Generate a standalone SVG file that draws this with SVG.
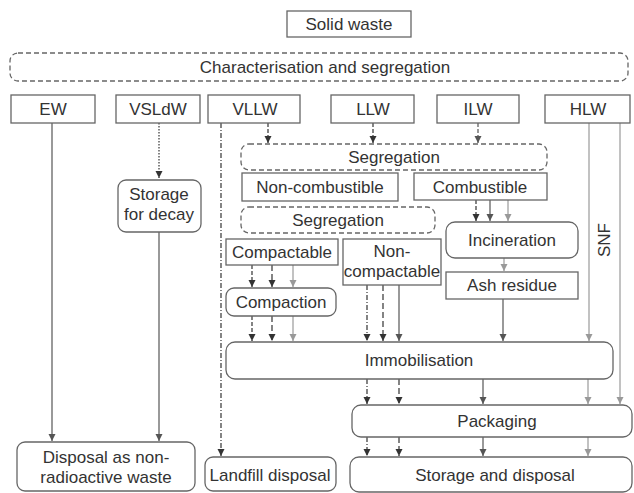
<svg xmlns="http://www.w3.org/2000/svg" width="634" height="493" viewBox="0 0 634 493">
<style>
  text { font-family: "Liberation Sans", Arial, sans-serif; font-size: 17px; fill: #333; text-anchor: middle; }
  .box { fill: #fff; stroke: #666; stroke-width: 1.3; }
  .dbox { fill: #fff; stroke: #666; stroke-width: 1.3; stroke-dasharray: 5,3; }
  .dk { stroke: #333; stroke-width: 1.2; fill: none; marker-end: url(#ahDark); }
  .md { stroke: #555; stroke-width: 1.2; fill: none; marker-end: url(#ahMid); }
  .lt { stroke: #999; stroke-width: 1.2; fill: none; marker-end: url(#ahLight); }
  .ltn { stroke: #999; stroke-width: 1.2; fill: none; }
  .dash1 { stroke-dasharray: 4,2; }
  .dash2 { stroke-dasharray: 6,3; }
  .dashdot { stroke-dasharray: 5,2,1,2; }
  .dot { stroke-dasharray: 1.5,1.5; }
</style>
<defs>
  <marker id="ahDark" markerWidth="8" markerHeight="8" refX="7" refY="4" orient="auto" markerUnits="userSpaceOnUse">
    <path d="M0,0.5 L7,4 L0,7.5 z" fill="#333"/>
  </marker>
  <marker id="ahMid" markerWidth="8" markerHeight="8" refX="7" refY="4" orient="auto" markerUnits="userSpaceOnUse">
    <path d="M0,0.5 L7,4 L0,7.5 z" fill="#555"/>
  </marker>
  <marker id="ahLight" markerWidth="8" markerHeight="8" refX="7" refY="4" orient="auto" markerUnits="userSpaceOnUse">
    <path d="M0,0.5 L7,4 L0,7.5 z" fill="#999"/>
  </marker>
</defs>

<g id="connectors">
  <!-- EW -->
  <line class="md" x1="52" y1="123" x2="52" y2="441"/>
  <!-- VSLdW -->
  <line class="dk dot" x1="159" y1="123" x2="159" y2="178"/>
  <line class="md" x1="159" y1="232" x2="159" y2="441"/>
  <!-- VLLW -->
  <line class="dk dashdot" x1="221" y1="123" x2="221" y2="456"/>
  <line class="dk dash1" x1="268" y1="123" x2="268" y2="143"/>
  <!-- LLW -->
  <line class="dk dash1" x1="373" y1="123" x2="373" y2="143"/>
  <!-- ILW -->
  <line class="md dash1" x1="478" y1="123" x2="478" y2="143"/>
  <!-- Combustible -->
  <line class="dk dash1" x1="476" y1="200" x2="476" y2="221"/>
  <line class="md" x1="490" y1="200" x2="490" y2="221"/>
  <line class="lt" x1="508" y1="200" x2="508" y2="221"/>
  <!-- Incineration to Ash -->
  <line class="lt" x1="504" y1="258" x2="504" y2="271"/>
  <!-- Ash to Immobilisation -->
  <line class="md" x1="503" y1="299" x2="503" y2="341"/>
  <!-- Compactable -->
  <line class="dk dash1" x1="252" y1="265" x2="252" y2="287"/>
  <line class="dk dash2" x1="272" y1="265" x2="272" y2="287"/>
  <line class="lt" x1="293" y1="265" x2="293" y2="287"/>
  <!-- Compaction -->
  <line class="dk dash1" x1="252" y1="316" x2="252" y2="341"/>
  <line class="dk dash2" x1="272" y1="316" x2="272" y2="341"/>
  <line class="lt" x1="293" y1="316" x2="293" y2="341"/>
  <!-- Non-compactable -->
  <line class="dk dashdot" x1="367" y1="285" x2="367" y2="341"/>
  <line class="dk dash2" x1="383" y1="285" x2="383" y2="341"/>
  <line class="md" x1="399" y1="285" x2="399" y2="341"/>
  <!-- HLW -->
  <line class="lt" x1="589" y1="123" x2="589" y2="341"/>
  <line class="lt" x1="620" y1="123" x2="620" y2="404"/>
  <!-- Immobilisation to Packaging -->
  <line class="dk dashdot" x1="367" y1="379" x2="367" y2="404"/>
  <line class="dk dash2" x1="399" y1="379" x2="399" y2="404"/>
  <line class="md" x1="483" y1="379" x2="483" y2="404"/>
  <line class="lt" x1="588" y1="379" x2="588" y2="404"/>
  <!-- Packaging to Storage and disposal -->
  <line class="dk dashdot" x1="367" y1="437" x2="367" y2="456"/>
  <line class="dk dash2" x1="399" y1="437" x2="399" y2="456"/>
  <line class="md" x1="483" y1="437" x2="483" y2="456"/>
  <line class="lt" x1="588" y1="437" x2="588" y2="456"/>
  <text x="604" y="240" transform="rotate(-90 604 240)" dominant-baseline="central">SNF</text>
</g>

<g id="solid-waste">
  <rect class="box" x="287" y="11" width="124" height="26"/>
  <text x="349" y="30">Solid waste</text>
</g>
<g id="characterisation">
  <rect class="dbox" x="10" y="53" width="618" height="28" rx="8"/>
  <text x="325" y="72.5">Characterisation and segregation</text>
</g>
<g id="ew">
  <rect class="box" x="11" y="95" width="84" height="28"/>
  <text x="53" y="115">EW</text>
</g>
<g id="vsldw">
  <rect class="box" x="116" y="95" width="84" height="28"/>
  <text x="158" y="115">VSLdW</text>
</g>
<g id="vllw">
  <rect class="box" x="208" y="95" width="92" height="28"/>
  <text x="255" y="115">VLLW</text>
</g>
<g id="llw">
  <rect class="box" x="331" y="95" width="83" height="28"/>
  <text x="373" y="115">LLW</text>
</g>
<g id="ilw">
  <rect class="box" x="437" y="95" width="82" height="28"/>
  <text x="478" y="115">ILW</text>
</g>
<g id="hlw">
  <rect class="box" x="545" y="95" width="85" height="28"/>
  <text x="588" y="115">HLW</text>
</g>
<g id="storage-decay">
  <rect class="box" x="118" y="180" width="83" height="52" rx="8"/>
  <text x="159" y="200">Storage</text>
  <text x="159" y="220">for decay</text>
</g>
<g id="segregation1">
  <rect class="dbox" x="241" y="144" width="306" height="26" rx="8"/>
  <text x="394" y="163">Segregation</text>
</g>
<g id="non-combustible">
  <rect class="box" x="242" y="173" width="156" height="28"/>
  <text x="320" y="193">Non-combustible</text>
</g>
<g id="combustible">
  <rect class="box" x="414" y="173" width="133" height="27"/>
  <text x="480" y="193">Combustible</text>
</g>
<g id="segregation2">
  <rect class="dbox" x="241" y="207" width="194" height="26" rx="8"/>
  <text x="338" y="226">Segregation</text>
</g>
<g id="incineration">
  <rect class="box" x="446" y="222" width="132" height="36" rx="9"/>
  <text x="512" y="246">Incineration</text>
</g>
<g id="ash-residue">
  <rect class="box" x="446" y="272" width="132" height="27"/>
  <text x="512" y="291">Ash residue</text>
</g>
<g id="compactable">
  <rect class="box" x="226" y="239" width="112" height="26"/>
  <text x="282" y="258">Compactable</text>
</g>
<g id="non-compactable">
  <rect class="box" x="343" y="239" width="98" height="46"/>
  <text x="392" y="257">Non-</text>
  <text x="392" y="277">compactable</text>
</g>
<g id="compaction">
  <rect class="box" x="226" y="288" width="110" height="28" rx="8"/>
  <text x="281" y="308">Compaction</text>
</g>
<g id="immobilisation">
  <rect class="box" x="226" y="342" width="387" height="37" rx="9"/>
  <text x="419" y="366">Immobilisation</text>
</g>
<g id="packaging">
  <rect class="box" x="352" y="405" width="280" height="32" rx="9"/>
  <text x="497" y="427">Packaging</text>
</g>
<g id="disposal-nonrad">
  <rect class="box" x="17" y="442" width="178" height="49" rx="8"/>
  <text x="106" y="463">Disposal as non-</text>
  <text x="106" y="483">radioactive waste</text>
</g>
<g id="landfill">
  <rect class="box" x="205" y="457" width="131" height="34" rx="8"/>
  <text x="270" y="481">Landfill disposal</text>
</g>
<g id="storage-disposal">
  <rect class="box" x="350" y="457" width="282" height="35" rx="9"/>
  <text x="495" y="481">Storage and disposal</text>
</g>
</svg>
